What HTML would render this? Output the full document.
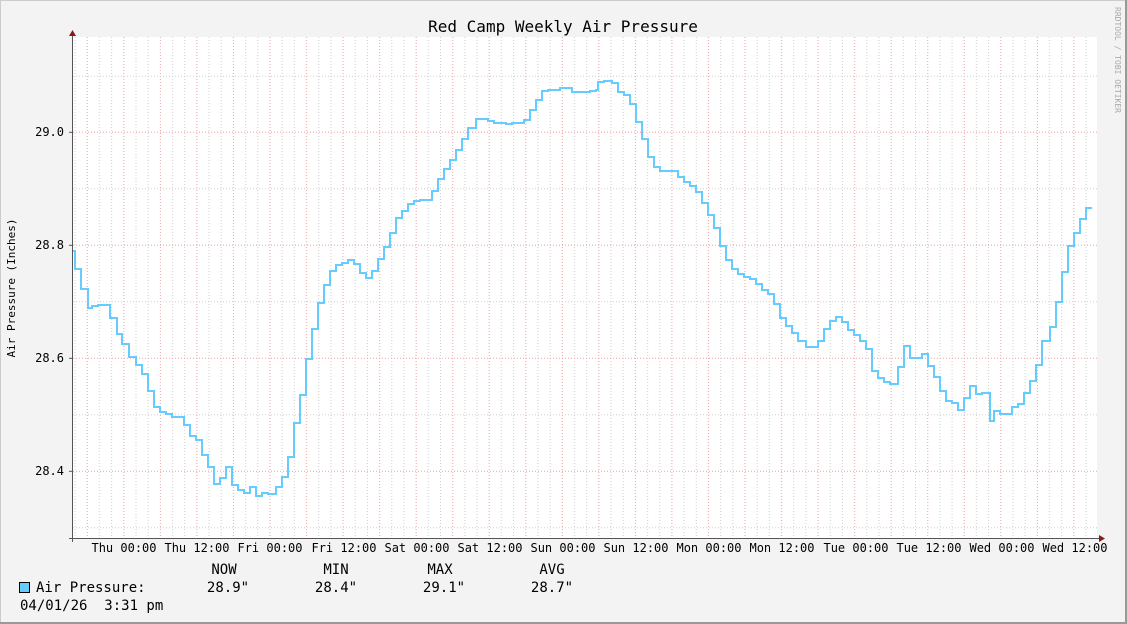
<!DOCTYPE html>
<html><head><meta charset="utf-8"><style>
body{margin:0;background:#f3f3f3;}
svg{display:block;font-family:"DejaVu Sans Mono","Liberation Mono",monospace;}
text{white-space:pre;}
</style></head><body>
<svg width="1127" height="624" xmlns="http://www.w3.org/2000/svg">
<defs>
<pattern id="vg" patternUnits="userSpaceOnUse" x="74.6" y="37" width="36.54" height="3">
<rect x="0" y="0" width="1" height="1" fill="#d0d0d0"/>
<rect x="12.18" y="0" width="1" height="1" fill="#f0a0a0"/>
<rect x="24.36" y="0" width="1" height="1" fill="#d0d0d0"/>
</pattern>
</defs>
<rect x="0" y="0" width="1127" height="624" fill="#f3f3f3"/>
<line x1="0.5" y1="0" x2="0.5" y2="624" stroke="#ccc"/>
<line x1="0" y1="0.5" x2="1127" y2="0.5" stroke="#ccc"/>
<line x1="1126" y1="0" x2="1126" y2="624" stroke="#999" stroke-width="2"/>
<line x1="0" y1="623" x2="1127" y2="623" stroke="#999" stroke-width="2"/>
<rect x="73" y="37" width="1024" height="501" fill="#fff"/>
<rect x="74" y="37" width="1023" height="501" fill="url(#vg)"/>
<g stroke-dasharray="1,2">
<line x1="73" y1="76.3" x2="1097" y2="76.3" stroke="#d0d0d0"/>
<line x1="73" y1="132.3" x2="1097" y2="132.3" stroke="#f0a0a0"/>
<line x1="73" y1="188.8" x2="1097" y2="188.8" stroke="#d0d0d0"/>
<line x1="73" y1="245.3" x2="1097" y2="245.3" stroke="#f0a0a0"/>
<line x1="73" y1="301.8" x2="1097" y2="301.8" stroke="#d0d0d0"/>
<line x1="73" y1="358.3" x2="1097" y2="358.3" stroke="#f0a0a0"/>
<line x1="73" y1="414.8" x2="1097" y2="414.8" stroke="#d0d0d0"/>
<line x1="73" y1="471.3" x2="1097" y2="471.3" stroke="#f0a0a0"/>
<line x1="73" y1="527.8" x2="1097" y2="527.8" stroke="#d0d0d0"/>
</g>
<text x="563" y="32" font-size="16" text-anchor="middle" fill="#000">Red Camp Weekly Air Pressure</text>
<text transform="translate(15,288) rotate(-90)" font-size="11" text-anchor="middle" fill="#000">Air Pressure (Inches)</text>
<text transform="translate(1115,60) rotate(90)" font-size="8" text-anchor="middle" fill="#aaa">RRDTOOL / TOBI OETIKER</text>
<g font-size="12" fill="#000" text-anchor="end">
<text x="64" y="136">29.0</text><text x="64" y="249">28.8</text><text x="64" y="362">28.6</text><text x="64" y="475">28.4</text>
</g>
<g font-size="12" fill="#000" text-anchor="middle">
<text x="124" y="552">Thu 00:00</text><text x="197" y="552">Thu 12:00</text><text x="270" y="552">Fri 00:00</text><text x="344" y="552">Fri 12:00</text><text x="417" y="552">Sat 00:00</text><text x="490" y="552">Sat 12:00</text><text x="563" y="552">Sun 00:00</text><text x="636" y="552">Sun 12:00</text><text x="709" y="552">Mon 00:00</text><text x="782" y="552">Mon 12:00</text><text x="856" y="552">Tue 00:00</text><text x="929" y="552">Tue 12:00</text><text x="1002" y="552">Wed 00:00</text><text x="1075" y="552">Wed 12:00</text>
</g>
<path fill="none" stroke="#66ccff" stroke-width="2" d="M73 251 H75 V269 H81 V289 H88 V308 H92 V306 H98 V305 H110 V318 H117 V334 H122 V344 H129 V357 H136 V365 H142 V374 H148 V391 H154 V407 H160 V412 H166 V414 H172 V417 H184 V425 H190 V436 H196 V440 H202 V455 H208 V467 H214 V484 H220 V478 H226 V467 H232 V485 H238 V490 H244 V493 H250 V487 H256 V496 H262 V493 H268 V494 H276 V487 H282 V477 H288 V457 H294 V423 H300 V395 H306 V359 H312 V329 H318 V303 H324 V285 H330 V271 H336 V265 H342 V263 H348 V260 H354 V264 H360 V273 H366 V278 H372 V271 H378 V259 H384 V247 H390 V233 H396 V218 H402 V211 H408 V204 H414 V201 H420 V200 H432 V191 H438 V179 H444 V169 H450 V160 H456 V150 H462 V139 H468 V128 H476 V119 H488 V121 H494 V123 H506 V124 H512 V123 H524 V120 H530 V110 H536 V100 H542 V91 H548 V90 H560 V88 H572 V92 H590 V91 H596 V90 H598 V82 H604 V81 H612 V83 H618 V92 H624 V95 H630 V104 H636 V122 H642 V139 H648 V157 H654 V167 H660 V171 H678 V177 H684 V182 H690 V186 H696 V192 H702 V203 H708 V215 H714 V228 H720 V246 H726 V260 H732 V269 H738 V274 H744 V277 H750 V279 H756 V284 H762 V290 H768 V294 H774 V304 H780 V318 H786 V326 H792 V333 H798 V341 H806 V347 H818 V341 H824 V329 H830 V321 H836 V317 H842 V322 H848 V330 H854 V335 H860 V341 H866 V349 H872 V371 H878 V378 H884 V382 H890 V384 H898 V367 H904 V346 H910 V358 H922 V354 H928 V366 H934 V377 H940 V391 H946 V401 H952 V403 H958 V410 H964 V398 H970 V386 H976 V394 H982 V393 H988 V393 H990 V421 H994 V411 H1000 V414 H1012 V407 H1018 V404 H1024 V393 H1030 V381 H1036 V365 H1042 V341 H1050 V327 H1056 V302 H1062 V272 H1068 V246 H1074 V233 H1080 V219 H1086 V208 H1092"/>
<line x1="72.5" y1="34" x2="72.5" y2="542" stroke="#555"/>
<line x1="69" y1="538.5" x2="1101" y2="538.5" stroke="#555"/>
<g stroke="#555">
<line x1="69" y1="471.3" x2="73" y2="471.3"/><line x1="69" y1="358.3" x2="73" y2="358.3"/><line x1="69" y1="245.3" x2="73" y2="245.3"/><line x1="69" y1="132.3" x2="73" y2="132.3"/>
</g>
<path d="M69 36 L76 36 L72.5 30 Z" fill="#8b1a1a"/>
<path d="M1099 535 L1099 542 L1105 538.5 Z" fill="#8b1a1a"/>
<g font-size="14" fill="#000">
<text x="224" y="574" text-anchor="middle">NOW</text><text x="336" y="574" text-anchor="middle">MIN</text><text x="440" y="574" text-anchor="middle">MAX</text><text x="552" y="574" text-anchor="middle">AVG</text>
<rect x="19.5" y="582.5" width="10" height="10" fill="#66ccff" stroke="#000"/>
<text x="36" y="592">Air Pressure:</text>
<text x="228" y="592" text-anchor="middle">28.9"</text><text x="336" y="592" text-anchor="middle">28.4"</text><text x="444" y="592" text-anchor="middle">29.1"</text><text x="552" y="592" text-anchor="middle">28.7"</text>
<text x="20" y="610">04/01/26  3:31 pm</text>
</g>
</svg>
</body></html>
